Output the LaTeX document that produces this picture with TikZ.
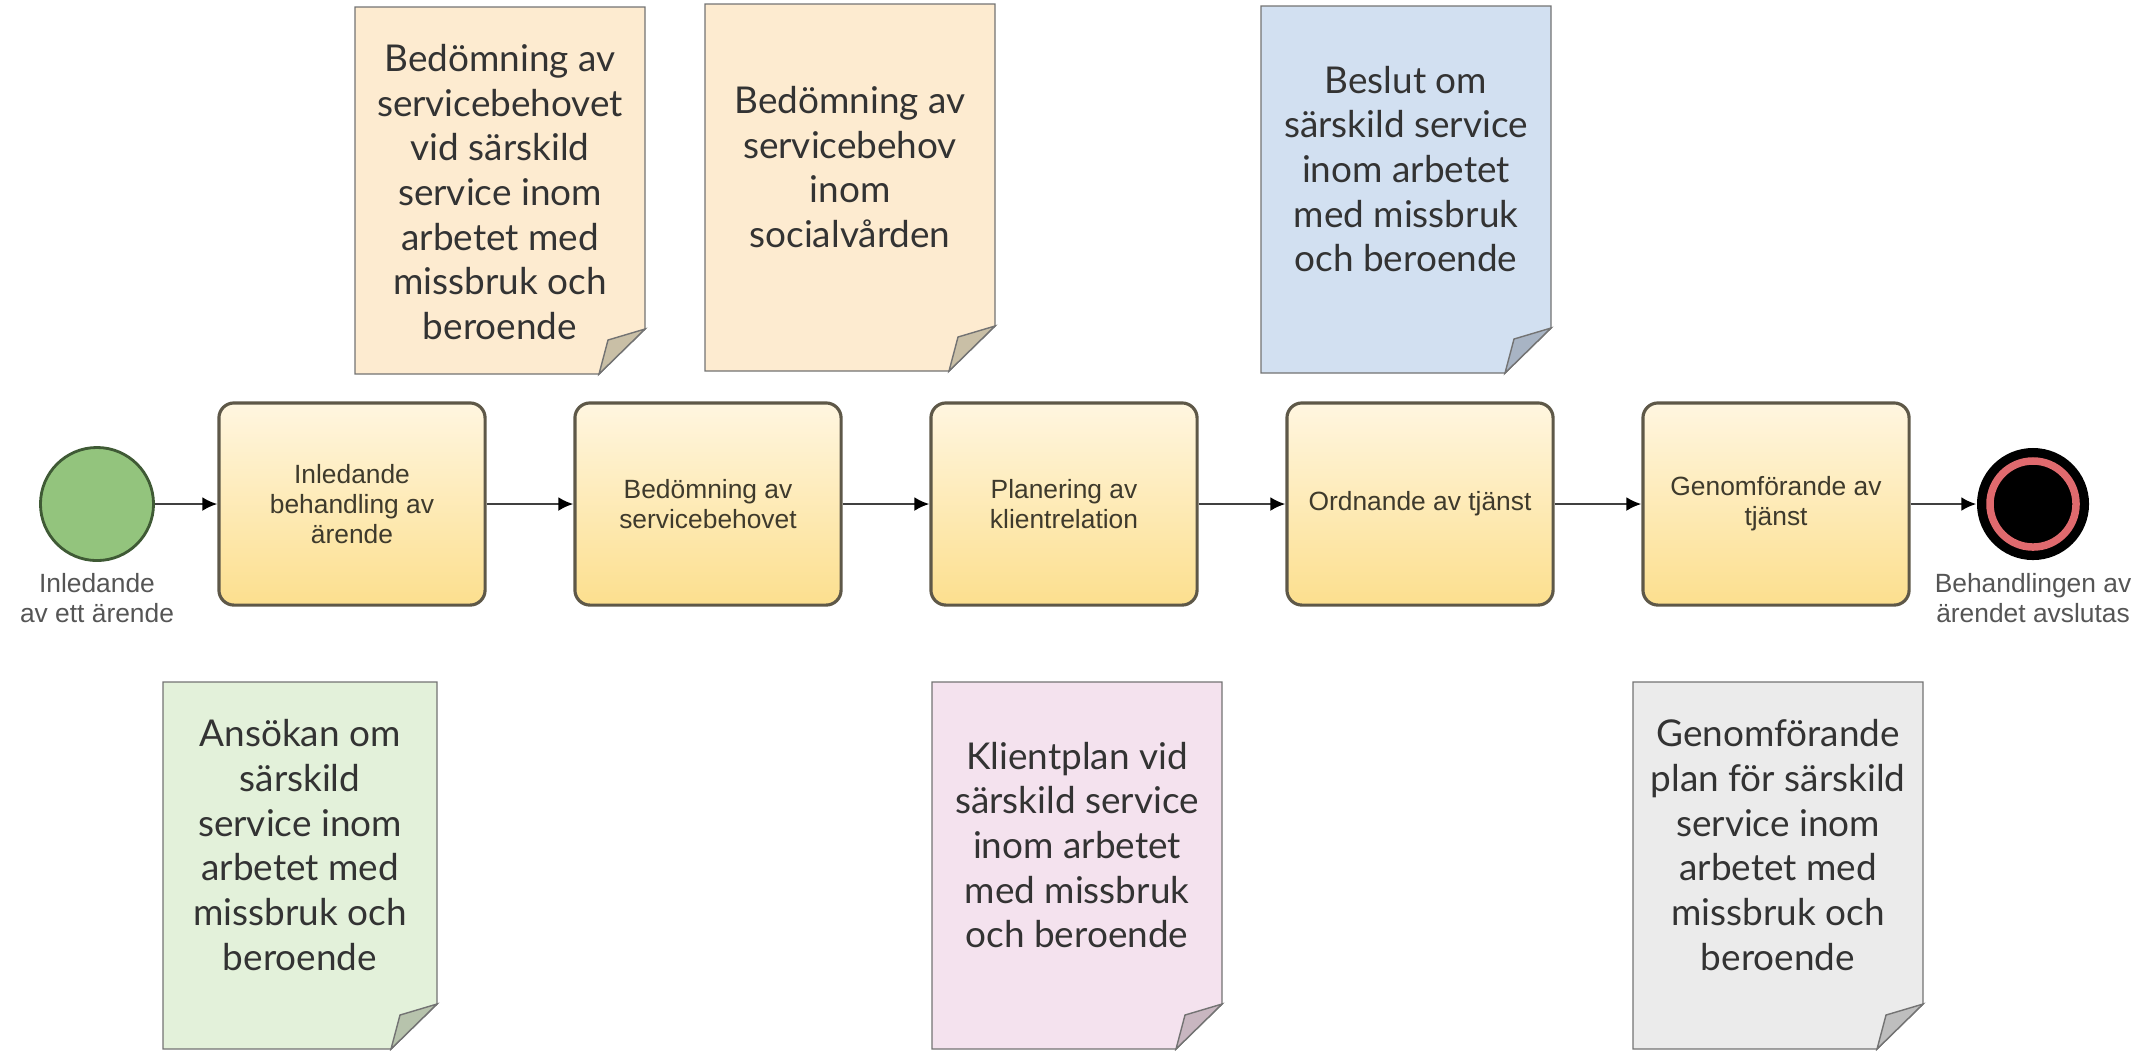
\documentclass[tikz,border=0pt]{standalone}
\usepackage{fontspec}
\setmainfont{Lato}
\newfontfamily\arialfont{Liberation Sans}
\usepackage{tikz}
\usetikzlibrary{arrows.meta}

\definecolor{peach}{HTML}{FDEBD0}
\definecolor{peachfold}{HTML}{C9BFA6}
\definecolor{bluedoc}{HTML}{D2E0F1}
\definecolor{bluefold}{HTML}{A8B4C4}
\definecolor{greendoc}{HTML}{E3F1DA}
\definecolor{greenfold}{HTML}{B7C3AC}
\definecolor{pinkdoc}{HTML}{F4E2EE}
\definecolor{pinkfold}{HTML}{C8B6C0}
\definecolor{greydoc}{HTML}{EBEBEB}
\definecolor{greyfold}{HTML}{BEBEBE}
\definecolor{doctext}{HTML}{333333}
\definecolor{tasktop}{HTML}{FFF6E0}
\definecolor{taskbottom}{HTML}{FCDF8E}
\definecolor{taskline}{HTML}{5E5848}
\definecolor{tasktext}{HTML}{3E3A2C}
\definecolor{labelgrey}{HTML}{555555}
\definecolor{startgreen}{HTML}{93C47D}
\definecolor{startline}{HTML}{3F5A35}
\definecolor{endred}{HTML}{E06A6E}
\definecolor{flowgrey}{HTML}{404040}

\tikzset{
  task/.style={rectangle,rounded corners=0.15cm,draw=taskline,line width=0.9pt,
    top color=tasktop,bottom color=taskbottom,minimum width=2.66cm,minimum height=2.02cm,
    align=center,text=tasktext,font=\arialfont\fontsize{7.5}{8.6}\selectfont},
  evlabel/.style={align=center,text=labelgrey,font=\arialfont\fontsize{7.5}{8.6}\selectfont},
  docline/.style={draw=black!55,line width=0.4pt},
  doclabel/.style={align=center,text=doctext,font=\fontsize{10.5}{12.7}\selectfont},
  flow/.style={draw=flowgrey,line width=0.7pt,-{Latex[black,length=0.15cm,width=0.14cm]}},
}

\begin{document}
\begin{tikzpicture}[x=0.01cm,y=-0.01cm]
        \useasboundingbox (0,0) rectangle (2149,1050);
        % documents
        \foreach \n/\x/\y/\w/\c/\f/\ty/\txt in {
            1/355/7/290/peach/peachfold/185/{Bedömning av\\servicebehovet\\vid särskild\\service inom\\arbetet med\\missbruk och\\beroende},
            2/705/4/290/peach/peachfold/163/{Bedömning av\\servicebehov\\inom\\socialvården},
            3/1261/6/290/bluedoc/bluefold/163/{Beslut om\\särskild service\\inom arbetet\\med missbruk\\och beroende},
            4/163/682/274/greendoc/greenfold/163/{Ansökan om\\särskild\\service inom\\arbetet med\\missbruk och\\beroende},
            5/932/682/290/pinkdoc/pinkfold/163/{Klientplan vid\\särskild service\\inom arbetet\\med missbruk\\och beroende},
            6/1633/682/290/greydoc/greyfold/163/{Genomförande\\plan för särskild\\service inom\\arbetet med\\missbruk och\\beroende}}{
            \draw[docline,fill=\c] (\x,\y) -- (\x+\w,\y) -- (\x+\w,\y+322)
                -- (\x+\w-46,\y+367) -- (\x,\y+367) -- cycle;
            \draw[docline,fill=\f] (\x+\w,\y+322) -- (\x+\w-37,\y+333) -- (\x+\w-46,\y+367) -- cycle;
            \node[doclabel] (doc\n) at (\x+\w/2,\y+\ty) {\txt};
        }
        % events
        \node[circle,draw=startline,line width=0.8pt,fill=startgreen,minimum size=1.13cm] (start) at (97,504) {};
        \node[evlabel] (startlabel) at (97,598) {Inledande\\av ett ärende};
        \node[circle,fill=black,minimum size=1.12cm,
            path picture={\draw[endred,line width=0.075cm] (path picture bounding box.center) circle (0.43cm);}]
            (end) at (2033,504) {};
        \node[evlabel] (endlabel) at (2033,598) {Behandlingen av\\ärendet avslutas};
        % tasks
        \foreach \i/\x/\txt in {1/352/{Inledande\\behandling av\\ärende},
            2/708/{Bedömning av\\servicebehovet}, 3/1064/{Planering av\\klientrelation},
            4/1420/{Ordnande av tjänst}, 5/1776/{Genomförande av\\tjänst}}{
            \node[task] (t\i) at (\x,504) {\txt};
        }
        \draw[flow] (start) -- (t1);
        \foreach \i [count=\j from 2] in {1,...,4}{
            \draw[flow] (t\i) -- (t\j);
        }
        \draw[flow] (t5) -- (end);
\end{tikzpicture}
\end{document}
